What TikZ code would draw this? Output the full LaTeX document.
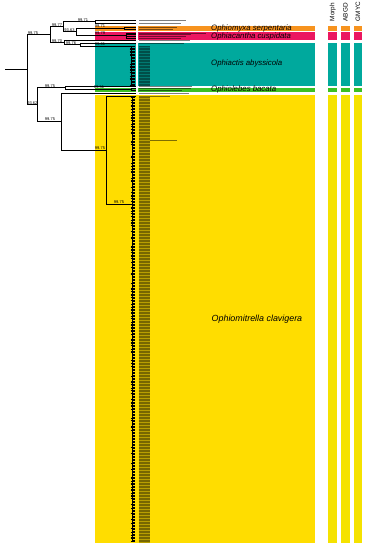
\documentclass[tikz,border=0pt]{standalone}
\usepackage{fontspec}
\setmainfont{Liberation Sans}
\definecolor{spOrange}{HTML}{F7931E}
\definecolor{spRed}{HTML}{EB1760}
\definecolor{spTeal}{HTML}{00A99D}
\definecolor{spGreen}{HTML}{3CBF24}
\definecolor{spYellow}{HTML}{FFDD00}
\definecolor{colYellow}{HTML}{F5E200}

\begin{document}
\begin{tikzpicture}[
  x=1pt, y=-1pt,
  font=\fontsize{4}{4.5}\selectfont,
  br/.style={draw=black, line width=0.7pt},
  stub/.style={draw=black, line width=0.45pt},
  tiplab/.style={draw=black, draw opacity=0.35, line width=0.85pt},
  labcol/.style={fill=black, fill opacity=0.28},
  bs/.style={font=\fontsize{4}{4.5}\selectfont, inner sep=0.3pt, anchor=south},
  species/.style={font=\fontsize{7.8}{9}\selectfont\itshape, anchor=west, inner sep=0pt},
  colhead/.style={font=\fontsize{6.4}{7}\selectfont, rotate=90, anchor=west, inner sep=0pt},
]
\useasboundingbox (0,0) rectangle (368,550);
\pgfmathsetseed{7}

% species bands behind the tree
\fill[spOrange] (95,26) rectangle (315,31.2);
\fill[spRed]    (95,32.3) rectangle (315,39.6);
\fill[spTeal]   (95,43.4) rectangle (315,86);
\fill[spGreen]  (95,87.7) rectangle (315,91.9);
\fill[spYellow] (95,95.2) rectangle (315,543);
\fill[white] (136.3,19) rectangle (138.3,94.6);

% delimitation columns
\foreach \cx in {328.3,341,353.7} {
  \fill[spOrange]  (\cx,26) rectangle ++(8.5,5.2);
  \fill[spRed]     (\cx,32.3) rectangle ++(8.5,7.3);
  \fill[spTeal]    (\cx,43.4) rectangle ++(8.5,42.6);
  \fill[spGreen]   (\cx,87.7) rectangle ++(8.5,4.2);
  \fill[colYellow] (\cx,95.2) rectangle ++(8.5,447.8);
}
\node[colhead] (hMorph) at (332.6,21.5) {Morph};
\node[colhead] (hABGD)  at (345.3,21.5) {ABGD};
\node[colhead] (hGMYC)  at (358,21.5) {GMYC};

% tree nodes
\coordinate (base) at (5,69.65);
\coordinate (r)    at (27,69.65);
\coordinate (nU)   at (50,34.7);
\coordinate (nA)   at (63,26.75);
\coordinate (nA1)  at (95,21.75);
\coordinate (nA2)  at (76,31.75);
\coordinate (nO)   at (124,28);
\coordinate (nR)   at (126,35.5);
\coordinate (nB)   at (64,42.7);
\coordinate (nT)   at (80,44.75);
\coordinate (nT2)  at (131,46.5);
\coordinate (nL)   at (37,104.6);
\coordinate (nG)   at (65,87.75);
\coordinate (nG2)  at (131.5,89.5);
\coordinate (nM)   at (61,121.5);
\coordinate (nM2)  at (106,150);
\coordinate (nY)   at (132.5,204);

\draw[br] (base) -- (r);
\draw[br] (r) |- (nU);   \draw[br] (r) |- (nL);
\draw[br] (nU) |- (nA);  \draw[br] (nU) |- (nB);
\draw[br] (nA) |- (nA1); \draw[br] (nA) |- (nA2);
\draw[br] (nA2) |- (nO); \draw[br] (nA2) |- (nR);
\draw[br] (nB) |- (nT);  \draw[br] (nT) |- (nT2);
\draw[br] (nL) |- (nG);  \draw[br] (nL) |- (nM);
\draw[br] (nG) |- (nG2); \draw[br] (nM) |- (nM2);
\draw[br] (nM2) |- (nY);

% single tips
\foreach \pnode/\yy [count=\i] in {nA1/20.5, nA1/23, nO/27, nO/29, nR/33, nR/34.7,
    nR/36.3, nR/38, nB/40.7, nT/43, nG/86, nG2/88.5, nG2/90.5, nM/93, nM2/96} {
  \coordinate (tip\i) at (135.5,\yy);
  \draw[br] (\pnode) |- (tip\i);
}

% ladder clades
\draw[br] (nT2) -- (131,85.5);
\foreach \k in {0,...,26}
  \draw[stub] (131-1.5*rnd,46.5+1.5*\k) -- (135,46.5+1.5*\k);
\draw[br] (132.5,97.5) -- (132.5,542);
\foreach \k in {0,...,296}
  \draw[stub] (132.5-2*rnd,97.5+1.5*\k) -- (135,97.5+1.5*\k);

% tip label rows
\foreach \yy/\xe in {20.5/186, 23/181, 27/177, 29/173, 33/206, 34.7/191, 36.3/186,
    38/181, 40.7/190, 43/184, 86/192, 88.5/191, 90.5/182, 93/189, 96/170}
  \draw[tiplab, draw opacity=0.5, line width=0.6pt] (139,\yy) -- (\xe,\yy);
\fill[labcol] (138.6,45.8) rectangle (150,85.9);
\fill[labcol] (138.6,96.8) rectangle (150,542.5);
\foreach \k in {0,...,26}
  \draw[tiplab] (138.6,46.5+1.5*\k) -- (150,46.5+1.5*\k);
\foreach \k in {0,...,296}
  \draw[tiplab] (138.6,97.5+1.5*\k) -- (150,97.5+1.5*\k);
\draw[tiplab, draw opacity=0.5, line width=0.6pt] (150,140.5) -- (177,140.5);

% support values
\node[bs] (bsU)  at (33,34.7)    {99.75};
\node[bs] (bsA)  at (57,26.75)   {99.77};
\node[bs] (bsA1) at (83,21.75)   {99.71};
\node[bs] (bsA2) at (69.5,31.75) {93.63};
\node[bs] (bsO)  at (100,28)     {99.71};
\node[bs] (bsR)  at (100,35.5)   {99.79};
\node[bs] (bsB)  at (57,42.7)    {99.70};
\node[bs] (bsT)  at (71,44.75)   {99.76};
\node[bs] (bsT2) at (100,46.5)   {99.61};
\node[bs] (bsL)  at (32.3,104.6) {93.62};
\node[bs] (bsG)  at (50,87.75)   {99.75};
\node[bs] (bsG2) at (99,89.5)    {99.51};
\node[bs] (bsM)  at (50,121.5)   {99.75};
\node[bs] (bsM2) at (100,150)    {99.75};
\node[bs] (bsY)  at (119,204)    {99.75};

% species names
\node[species] (spO) at (211,28.6) {Ophiomyxa serpentaria};
\node[species] (spR) at (211,36.2) {Ophiacantha cuspidata};
\node[species] (spT) at (211,63)   {Ophiactis abyssicola};
\node[species] (spG) at (211,89.8) {Ophiolebes bacata};
\node[species, font=\fontsize{8.9}{10}\selectfont\itshape] (spY) at (211.5,319)
  {Ophiomitrella clavigera};

\end{tikzpicture}
\end{document}
